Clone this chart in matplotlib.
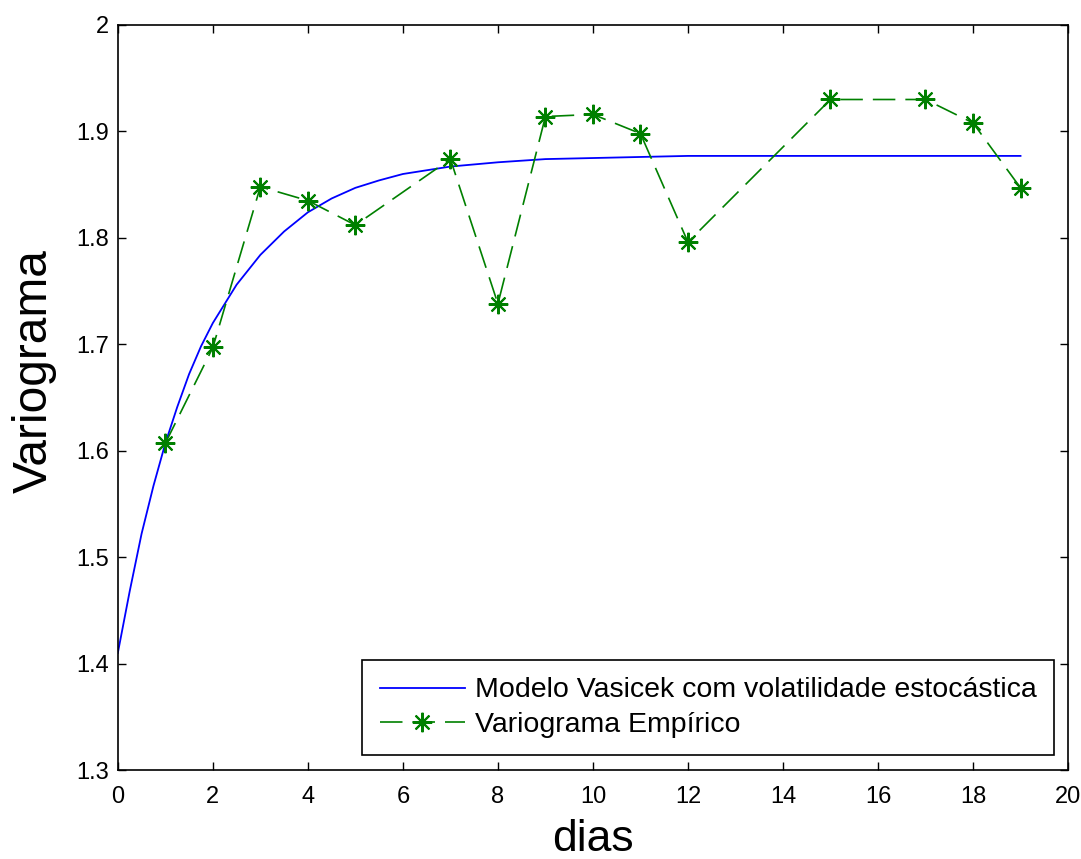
import matplotlib
matplotlib.use("Agg")
import matplotlib.pyplot as plt

plt.rcParams['font.family'] = ['Liberation Sans', 'DejaVu Sans']

# Model curve
model_x = [0, 0.25, 0.5, 0.75, 1.0, 1.25, 1.5, 1.75, 2.0, 2.5, 3.0, 3.5, 4.0,
           4.5, 5.0, 5.5, 6.0, 7.0, 8.0, 9.0, 10.0, 11.0, 12.0, 14.0, 16.0, 19.0]
model_y = [1.410, 1.468, 1.522, 1.567, 1.607, 1.641, 1.672, 1.698, 1.720, 1.756,
           1.784, 1.806, 1.824, 1.837, 1.847, 1.854, 1.860, 1.867, 1.871, 1.874,
           1.875, 1.876, 1.877, 1.877, 1.877, 1.877]

# Empirical variogram
emp_x = [1, 2, 3, 4, 5, 7, 8, 9, 10, 11, 12, 15, 17, 18, 19]
emp_y = [1.607, 1.697, 1.848, 1.835, 1.812, 1.874, 1.738, 1.914, 1.916, 1.898,
         1.796, 1.930, 1.930, 1.908, 1.847]

xticks = list(range(0, 21, 2))
yticks = [1.3, 1.4, 1.5, 1.6, 1.7, 1.8, 1.9, 2.0]
ytick_labels = ['1.3', '1.4', '1.5', '1.6', '1.7', '1.8', '1.9', '2']

fig = plt.figure(figsize=(10.81, 8.59), dpi=100)
ax = fig.add_axes([0.109, 0.1036, 0.879, 0.8673])

ax.plot(model_x, model_y, color='#0000FF', lw=1.3,
        label='Modelo Vasicek com volatilidade estocástica')
ax.plot(emp_x, emp_y, color='#008000', lw=1.2, dashes=(13.5, 6),
        marker=(8, 2, 0), markersize=14, markeredgewidth=1.5,
        label='Variograma Empírico')

ax.set_xlim(0, 20)
ax.set_ylim(1.3, 2.0)
ax.set_xticks(xticks)
ax.set_xticklabels([str(t) for t in xticks])
ax.set_yticks(yticks)
ax.set_yticklabels(ytick_labels)
ax.tick_params(direction='in', length=6, width=1, top=True, right=True,
               labelsize=17, colors='black')
ax.tick_params(axis='x', pad=11.5)
ax.tick_params(axis='y', pad=6)
for s in ax.spines.values():
    s.set_linewidth(1.2)

ax.set_xlabel('dias', fontsize=32, labelpad=8)
ax.set_ylabel('Variograma', fontsize=34.5)
ax.yaxis.set_label_coords(-0.064, 0.5356)

leg = ax.legend(loc='lower right', bbox_to_anchor=(0.985, 0.02), fontsize=20.5,
                fancybox=False, edgecolor='black', framealpha=1,
                borderaxespad=0, handlelength=3.0, handletextpad=0.35,
                borderpad=0.6, labelspacing=0.3)
leg.get_frame().set_linewidth(1.2)

fig.savefig('out.png', dpi=100, facecolor='white')
